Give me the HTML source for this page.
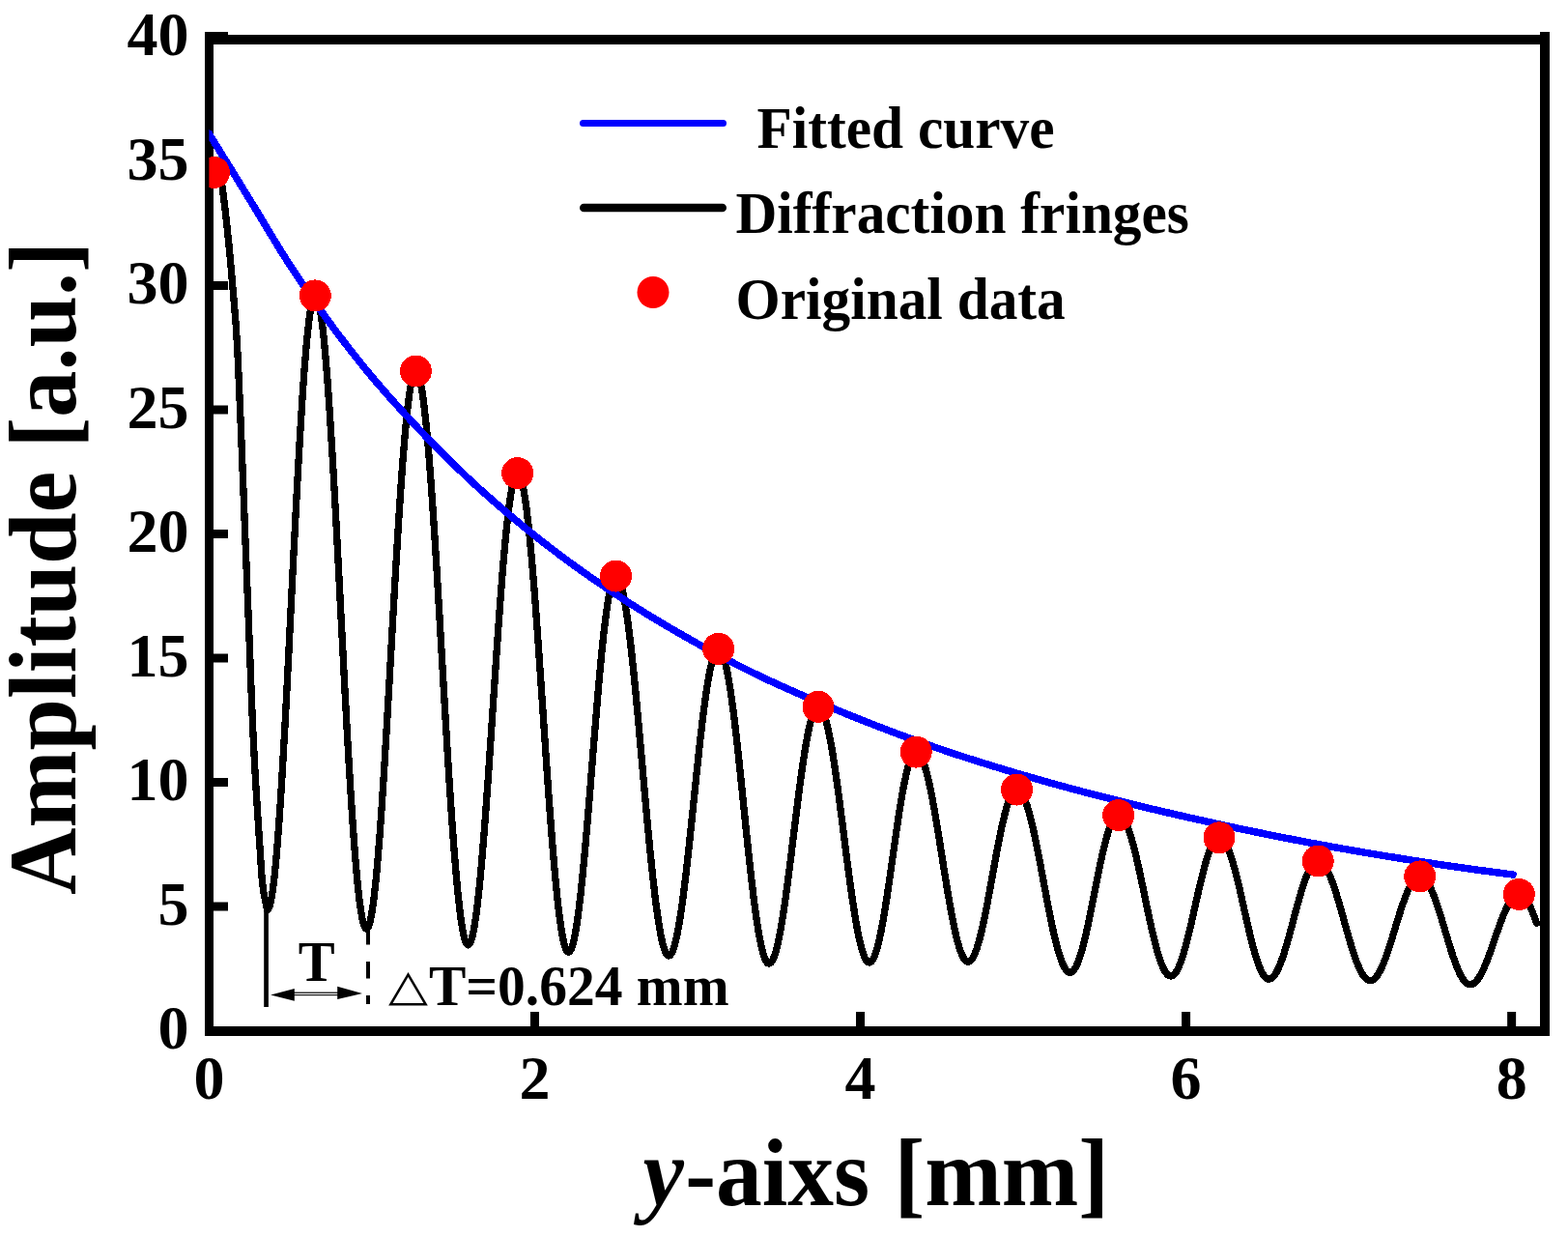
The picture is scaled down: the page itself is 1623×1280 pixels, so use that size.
<!DOCTYPE html>
<html><head><meta charset="utf-8"><title>plot</title><style>html,body{margin:0;padding:0;background:#fff;width:1623px;height:1280px;overflow:hidden}</style></head><body>
<svg width="1623" height="1280" viewBox="0 0 1623 1280" style="display:block">
<defs><clipPath id="c"><rect x="216.4" y="38.5" width="1377.6" height="1028"/></clipPath></defs>
<rect width="1623" height="1280" fill="#fff"/>
<g fill="#000">
<rect x="212" y="36" width="1392" height="10"/>
<rect x="212" y="1062" width="1392" height="10"/>
<rect x="212" y="36" width="9" height="1036"/>
<rect x="1594" y="33" width="10" height="1039"/>
<rect x="212" y="1062.00" width="24" height="9"/>
<rect x="212" y="933.50" width="24" height="9"/>
<rect x="212" y="805.00" width="24" height="9"/>
<rect x="212" y="676.50" width="24" height="9"/>
<rect x="212" y="548.00" width="24" height="9"/>
<rect x="212" y="419.50" width="24" height="9"/>
<rect x="212" y="291.00" width="24" height="9"/>
<rect x="212" y="162.50" width="24" height="9"/>
<rect x="212" y="33" width="24" height="10"/>
<rect x="548.96" y="1047" width="9" height="20"/>
<rect x="886.02" y="1047" width="9" height="20"/>
<rect x="1223.08" y="1047" width="9" height="20"/>
<rect x="1560.14" y="1047" width="9" height="20"/>
</g>
<g font-family="Liberation Serif, Times New Roman, serif" font-weight="bold" font-size="64" fill="#000">
<text x="195.5" y="1085.00" text-anchor="end">0</text>
<text x="195.5" y="956.50" text-anchor="end">5</text>
<text x="195.5" y="828.00" text-anchor="end">10</text>
<text x="195.5" y="699.50" text-anchor="end">15</text>
<text x="195.5" y="571.00" text-anchor="end">20</text>
<text x="195.5" y="442.50" text-anchor="end">25</text>
<text x="195.5" y="314.00" text-anchor="end">30</text>
<text x="195.5" y="185.50" text-anchor="end">35</text>
<text x="195.5" y="57.00" text-anchor="end">40</text>
<text x="216.40" y="1137.4" text-anchor="middle">0</text>
<text x="553.46" y="1137.4" text-anchor="middle">2</text>
<text x="890.52" y="1137.4" text-anchor="middle">4</text>
<text x="1227.58" y="1137.4" text-anchor="middle">6</text>
<text x="1564.64" y="1137.4" text-anchor="middle">8</text>
</g>
<g clip-path="url(#c)" shape-rendering="crispEdges">
<path d="M214.00,183.00 L218.00,178.00 L222.00,177.00 L226.00,181.00 L228.50,186.00 L230.00,193.00 L230.52,197.00 L231.04,201.00 L231.54,205.00 L232.04,209.00 L232.54,213.00 L233.02,217.00 L233.49,221.00 L233.95,225.00 L234.40,229.00 L234.85,233.00 L235.27,237.00 L235.69,241.00 L236.10,245.00 L236.51,249.00 L236.90,253.00 L237.29,257.00 L237.67,261.00 L238.04,265.00 L238.41,269.00 L238.78,273.00 L239.14,277.00 L239.49,281.00 L239.85,285.00 L240.20,289.00 L240.54,293.00 L240.89,297.00 L241.24,301.00 L241.59,305.00 L241.94,309.00 L242.29,313.00 L242.63,317.00 L242.96,321.00 L243.29,325.00 L243.61,329.00 L243.92,333.00 L244.21,337.00 L244.50,341.00 L244.76,345.00 L245.01,349.00 L245.25,353.00 L245.47,357.00 L245.69,361.00 L245.90,365.00 L246.11,369.00 L246.30,373.00 L246.49,377.00 L246.68,381.00 L246.86,385.00 L247.04,389.00 L247.22,393.00 L247.39,397.00 L247.56,401.00 L247.74,405.00 L247.91,409.00 L248.08,413.00 L248.26,417.00 L248.43,421.00 L248.61,425.00 L248.78,429.00 L248.95,433.00 L249.12,437.00 L249.29,441.00 L249.45,445.00 L249.62,449.00 L249.78,453.00 L249.95,457.00 L250.11,461.00 L250.27,465.00 L250.43,469.00 L250.59,473.00 L250.75,477.00 L250.91,481.00 L251.06,485.00 L251.22,489.00 L251.38,493.00 L251.53,497.00 L251.69,501.00 L251.84,505.00 L252.00,509.00 L252.16,513.00 L252.31,517.00 L252.47,521.00 L252.62,525.00 L252.78,529.00 L252.93,533.00 L253.09,537.00 L253.25,541.00 L253.40,545.00 L253.56,549.00 L253.72,553.00 L253.88,557.00 L254.04,561.00 L254.20,565.00 L254.36,569.00 L254.52,573.00 L254.68,577.00 L254.84,581.00 L255.00,585.00 L255.16,589.00 L255.32,593.00 L255.48,597.00 L255.64,601.00 L255.80,605.00 L255.96,609.00 L256.12,613.00 L256.28,617.00 L256.44,621.00 L256.60,625.00 L256.76,629.00 L256.92,633.00 L257.08,637.00 L257.24,641.00 L257.40,645.00 L257.56,649.00 L257.72,653.00 L257.88,657.00 L258.04,661.00 L258.20,665.00 L258.35,669.00 L258.51,673.00 L258.66,677.00 L258.81,681.00 L258.96,685.00 L259.11,689.00 L259.26,693.00 L259.41,697.00 L259.56,701.00 L259.71,705.00 L259.87,709.00 L260.02,713.00 L260.17,717.00 L260.33,721.00 L260.49,725.00 L260.65,729.00 L260.81,733.00 L260.97,737.00 L261.14,741.00 L261.32,745.00 L261.49,749.00 L261.67,753.00 L261.86,757.00 L262.05,761.00 L262.24,765.00 L262.44,769.00 L262.64,773.00 L262.85,777.00 L263.06,781.00 L263.28,785.00 L263.49,789.00 L263.72,793.00 L263.94,797.00 L264.17,801.00 L264.40,805.00 L264.64,809.00 L264.88,813.00 L265.12,817.00 L265.36,821.00 L265.61,825.00 L265.86,829.00 L266.11,833.00 L266.36,837.00 L266.62,841.00 L266.88,845.00 L267.14,849.00 L267.40,853.00 L267.66,857.00 L267.93,861.00 L268.19,865.00 L268.46,869.00 L268.73,873.00 L269.00,877.00 L269.27,881.00 L269.53,885.00 L269.78,889.00 L270.03,893.00 L270.29,897.00 L270.57,901.00 L270.87,905.00 L271.21,909.00 L271.59,913.00 L272.03,917.00 L272.57,921.00 L273.22,925.00 L273.95,929.00 L274.74,933.00 L275.60,937.00 L276.49,941.00 L276.60,941.50 L277.61,940.85 L278.63,938.89 L279.64,935.64 L280.66,931.11 L281.67,925.31 L282.69,918.27 L283.70,910.03 L284.71,900.61 L285.73,890.04 L286.74,878.39 L287.76,865.69 L288.77,851.99 L289.79,837.36 L290.80,821.85 L291.81,805.52 L292.83,788.45 L293.84,770.69 L294.86,752.34 L295.87,733.46 L296.89,714.12 L297.90,694.42 L298.91,674.42 L299.93,654.22 L300.94,633.89 L301.96,613.51 L302.97,593.18 L303.99,572.98 L305.00,552.98 L306.01,533.28 L307.03,513.94 L308.04,495.06 L309.06,476.71 L310.07,458.95 L311.09,441.88 L312.10,425.55 L313.11,410.04 L314.13,395.41 L315.14,381.71 L316.16,369.01 L317.17,357.36 L318.19,346.79 L319.20,337.37 L320.21,329.13 L321.23,322.09 L322.24,316.29 L323.26,311.76 L324.27,308.51 L325.29,306.55 L326.30,305.90 L327.30,306.48 L328.30,308.20 L329.30,311.07 L330.30,315.07 L331.30,320.19 L332.30,326.41 L333.30,333.71 L334.30,342.06 L335.30,351.44 L336.30,361.80 L337.30,373.13 L338.30,385.36 L339.30,398.47 L340.30,412.41 L341.30,427.12 L342.30,442.56 L343.30,458.67 L344.30,475.39 L345.30,492.67 L346.30,510.44 L347.30,528.65 L348.30,547.22 L349.30,566.10 L350.30,585.22 L351.30,604.50 L352.30,623.89 L353.30,643.31 L354.30,662.70 L355.30,681.98 L356.30,701.10 L357.30,719.98 L358.30,738.55 L359.30,756.76 L360.30,774.53 L361.30,791.81 L362.30,808.53 L363.30,824.64 L364.30,840.08 L365.30,854.79 L366.30,868.73 L367.30,881.84 L368.30,894.07 L369.30,905.40 L370.30,915.76 L371.30,925.14 L372.30,933.49 L373.30,940.79 L374.30,947.01 L375.30,952.13 L376.30,956.13 L377.30,959.00 L378.30,960.72 L379.30,961.30 L380.30,960.75 L381.30,959.11 L382.31,956.39 L383.31,952.58 L384.31,947.72 L385.31,941.81 L386.31,934.88 L387.32,926.95 L388.32,918.07 L389.32,908.25 L390.32,897.53 L391.32,885.96 L392.33,873.59 L393.33,860.45 L394.33,846.60 L395.33,832.09 L396.33,816.98 L397.34,801.31 L398.34,785.16 L399.34,768.58 L400.34,751.64 L401.34,734.40 L402.35,716.93 L403.35,699.28 L404.35,681.54 L405.35,663.76 L406.35,646.02 L407.35,628.37 L408.36,610.90 L409.36,593.66 L410.36,576.72 L411.36,560.14 L412.36,543.99 L413.37,528.33 L414.37,513.21 L415.37,498.70 L416.37,484.85 L417.37,471.71 L418.38,459.34 L419.38,447.77 L420.38,437.05 L421.38,427.23 L422.38,418.35 L423.39,410.42 L424.39,403.49 L425.39,397.58 L426.39,392.72 L427.39,388.91 L428.40,386.19 L429.40,384.55 L430.40,384.00 L431.40,384.50 L432.40,386.01 L433.41,388.51 L434.41,392.00 L435.41,396.48 L436.41,401.91 L437.41,408.29 L438.41,415.59 L439.42,423.78 L440.42,432.85 L441.42,442.76 L442.42,453.47 L443.42,464.96 L444.43,477.17 L445.43,490.07 L446.43,503.62 L447.43,517.77 L448.43,532.47 L449.44,547.68 L450.44,563.33 L451.44,579.39 L452.44,595.78 L453.44,612.47 L454.44,629.39 L455.45,646.48 L456.45,663.68 L457.45,680.95 L458.45,698.22 L459.45,715.42 L460.46,732.51 L461.46,749.43 L462.46,766.12 L463.46,782.51 L464.46,798.57 L465.46,814.22 L466.47,829.42 L467.47,844.13 L468.47,858.28 L469.47,871.83 L470.47,884.73 L471.48,896.94 L472.48,908.43 L473.48,919.14 L474.48,929.05 L475.48,938.12 L476.49,946.31 L477.49,953.61 L478.49,959.99 L479.49,965.42 L480.49,969.90 L481.49,973.39 L482.50,975.89 L483.50,977.40 L484.50,977.90 L485.50,977.44 L486.51,976.05 L487.51,973.74 L488.52,970.53 L489.52,966.41 L490.52,961.41 L491.53,955.55 L492.53,948.85 L493.54,941.33 L494.54,933.02 L495.54,923.96 L496.55,914.18 L497.55,903.71 L498.55,892.60 L499.56,880.88 L500.56,868.61 L501.57,855.83 L502.57,842.58 L503.57,828.92 L504.58,814.89 L505.58,800.56 L506.59,785.98 L507.59,771.20 L508.59,756.28 L509.60,741.27 L510.60,726.23 L511.61,711.22 L512.61,696.30 L513.61,681.52 L514.62,666.94 L515.62,652.61 L516.63,638.58 L517.63,624.92 L518.63,611.68 L519.64,598.89 L520.64,586.62 L521.65,574.90 L522.65,563.79 L523.65,553.32 L524.66,543.54 L525.66,534.48 L526.66,526.17 L527.67,518.65 L528.67,511.95 L529.68,506.09 L530.68,501.09 L531.68,496.97 L532.69,493.76 L533.69,491.45 L534.70,490.06 L535.70,489.60 L536.71,490.05 L537.73,491.41 L538.74,493.66 L539.75,496.80 L540.77,500.82 L541.78,505.70 L542.79,511.43 L543.81,517.98 L544.82,525.34 L545.83,533.46 L546.85,542.34 L547.86,551.92 L548.88,562.18 L549.89,573.08 L550.90,584.58 L551.92,596.63 L552.93,609.20 L553.94,622.24 L554.96,635.70 L555.97,649.53 L556.98,663.68 L558.00,678.10 L559.01,692.73 L560.02,707.53 L561.04,722.44 L562.05,737.40 L563.06,752.36 L564.08,767.27 L565.09,782.07 L566.10,796.70 L567.12,811.12 L568.13,825.27 L569.14,839.10 L570.16,852.56 L571.17,865.60 L572.18,878.17 L573.20,890.22 L574.21,901.72 L575.23,912.62 L576.24,922.88 L577.25,932.46 L578.27,941.34 L579.28,949.46 L580.29,956.82 L581.31,963.37 L582.32,969.10 L583.33,973.98 L584.35,978.00 L585.36,981.14 L586.37,983.39 L587.39,984.75 L588.40,985.20 L589.40,984.80 L590.40,983.60 L591.41,981.61 L592.41,978.84 L593.41,975.29 L594.41,970.98 L595.41,965.93 L596.42,960.16 L597.42,953.69 L598.42,946.56 L599.42,938.78 L600.42,930.39 L601.43,921.43 L602.43,911.93 L603.43,901.93 L604.43,891.48 L605.43,880.61 L606.44,869.37 L607.44,857.81 L608.44,845.97 L609.44,833.90 L610.44,821.66 L611.45,809.29 L612.45,796.84 L613.45,784.36 L614.45,771.91 L615.46,759.54 L616.46,747.30 L617.46,735.23 L618.46,723.39 L619.46,711.83 L620.47,700.59 L621.47,689.72 L622.47,679.27 L623.47,669.27 L624.47,659.77 L625.48,650.81 L626.48,642.42 L627.48,634.64 L628.48,627.51 L629.48,621.04 L630.49,615.27 L631.49,610.22 L632.49,605.91 L633.49,602.36 L634.49,599.59 L635.50,597.60 L636.50,596.40 L637.50,596.00 L638.51,596.33 L639.53,597.33 L640.54,598.99 L641.55,601.30 L642.56,604.26 L643.58,607.85 L644.59,612.07 L645.60,616.90 L646.62,622.33 L647.63,628.33 L648.64,634.88 L649.66,641.97 L650.67,649.57 L651.68,657.65 L652.69,666.19 L653.71,675.16 L654.72,684.52 L655.73,694.25 L656.75,704.31 L657.76,714.67 L658.77,725.29 L659.79,736.14 L660.80,747.18 L661.81,758.38 L662.82,769.69 L663.84,781.07 L664.85,792.50 L665.86,803.93 L666.88,815.31 L667.89,826.62 L668.90,837.82 L669.91,848.86 L670.93,859.71 L671.94,870.33 L672.95,880.69 L673.97,890.75 L674.98,900.48 L675.99,909.84 L677.01,918.81 L678.02,927.35 L679.03,935.43 L680.04,943.03 L681.06,950.12 L682.07,956.67 L683.08,962.67 L684.10,968.10 L685.11,972.93 L686.12,977.15 L687.14,980.74 L688.15,983.70 L689.16,986.01 L690.17,987.67 L691.19,988.67 L692.20,989.00 L693.21,988.70 L694.22,987.80 L695.23,986.30 L696.24,984.20 L697.25,981.53 L698.26,978.28 L699.27,974.46 L700.28,970.10 L701.29,965.21 L702.30,959.81 L703.31,953.92 L704.32,947.55 L705.33,940.75 L706.34,933.52 L707.35,925.90 L708.36,917.92 L709.37,909.60 L710.38,900.98 L711.39,892.10 L712.40,882.98 L713.41,873.66 L714.42,864.17 L715.43,854.56 L716.44,844.85 L717.45,835.09 L718.45,825.31 L719.46,815.55 L720.47,805.84 L721.48,796.23 L722.49,786.74 L723.50,777.42 L724.51,768.30 L725.52,759.42 L726.53,750.80 L727.54,742.48 L728.55,734.50 L729.56,726.88 L730.57,719.65 L731.58,712.85 L732.59,706.48 L733.60,700.59 L734.61,695.19 L735.62,690.30 L736.63,685.94 L737.64,682.12 L738.65,678.87 L739.66,676.20 L740.67,674.10 L741.68,672.60 L742.69,671.70 L743.70,671.40 L744.70,671.70 L745.71,672.59 L746.71,674.07 L747.72,676.13 L748.72,678.77 L749.72,681.98 L750.73,685.75 L751.73,690.05 L752.73,694.89 L753.74,700.23 L754.74,706.06 L755.75,712.36 L756.75,719.10 L757.75,726.26 L758.76,733.82 L759.76,741.74 L760.77,750.00 L761.77,758.57 L762.77,767.41 L763.78,776.50 L764.78,785.80 L765.78,795.28 L766.79,804.90 L767.79,814.62 L768.80,824.42 L769.80,834.25 L770.80,844.08 L771.81,853.88 L772.81,863.60 L773.82,873.22 L774.82,882.70 L775.82,892.00 L776.83,901.09 L777.83,909.93 L778.83,918.50 L779.84,926.76 L780.84,934.68 L781.85,942.24 L782.85,949.40 L783.85,956.14 L784.86,962.44 L785.86,968.27 L786.87,973.61 L787.87,978.45 L788.87,982.75 L789.88,986.52 L790.88,989.73 L791.88,992.37 L792.89,994.43 L793.89,995.91 L794.90,996.80 L795.90,997.10 L796.90,996.85 L797.90,996.09 L798.91,994.84 L799.91,993.09 L800.91,990.85 L801.91,988.13 L802.91,984.94 L803.92,981.29 L804.92,977.19 L805.92,972.67 L806.92,967.74 L807.92,962.41 L808.93,956.72 L809.93,950.67 L810.93,944.29 L811.93,937.61 L812.93,930.65 L813.94,923.44 L814.94,916.00 L815.94,908.37 L816.94,900.57 L817.94,892.63 L818.95,884.59 L819.95,876.46 L820.95,868.29 L821.95,860.11 L822.95,851.94 L823.95,843.81 L824.96,835.77 L825.96,827.83 L826.96,820.03 L827.96,812.40 L828.96,804.96 L829.97,797.75 L830.97,790.79 L831.97,784.11 L832.97,777.73 L833.97,771.68 L834.98,765.99 L835.98,760.66 L836.98,755.73 L837.98,751.21 L838.98,747.11 L839.99,743.46 L840.99,740.27 L841.99,737.55 L842.99,735.31 L843.99,733.56 L845.00,732.31 L846.00,731.55 L847.00,731.30 L848.02,731.54 L849.03,732.26 L850.05,733.47 L851.06,735.15 L852.08,737.29 L853.09,739.90 L854.11,742.96 L855.12,746.46 L856.14,750.39 L857.15,754.73 L858.17,759.47 L859.18,764.58 L860.20,770.06 L861.22,775.89 L862.23,782.03 L863.25,788.47 L864.26,795.18 L865.28,802.14 L866.29,809.33 L867.31,816.72 L868.32,824.28 L869.34,831.98 L870.35,839.79 L871.37,847.70 L872.38,855.66 L873.40,863.65 L874.42,871.64 L875.43,879.60 L876.45,887.51 L877.46,895.32 L878.48,903.02 L879.49,910.58 L880.51,917.97 L881.52,925.16 L882.54,932.12 L883.55,938.83 L884.57,945.27 L885.58,951.41 L886.60,957.24 L887.62,962.72 L888.63,967.83 L889.65,972.57 L890.66,976.91 L891.68,980.84 L892.69,984.34 L893.71,987.40 L894.72,990.01 L895.74,992.15 L896.75,993.83 L897.77,995.04 L898.78,995.76 L899.80,996.00 L900.81,995.77 L901.82,995.07 L902.82,993.91 L903.83,992.29 L904.84,990.22 L905.85,987.71 L906.86,984.76 L907.87,981.40 L908.88,977.64 L909.88,973.49 L910.89,968.96 L911.90,964.09 L912.91,958.89 L913.92,953.37 L914.92,947.58 L915.93,941.52 L916.94,935.24 L917.95,928.74 L918.96,922.07 L919.97,915.25 L920.98,908.31 L921.98,901.27 L922.99,894.18 L924.00,887.05 L925.01,879.92 L926.02,872.83 L927.02,865.79 L928.03,858.85 L929.04,852.03 L930.05,845.36 L931.06,838.86 L932.07,832.58 L933.08,826.52 L934.08,820.73 L935.09,815.21 L936.10,810.01 L937.11,805.14 L938.12,800.61 L939.12,796.46 L940.13,792.70 L941.14,789.34 L942.15,786.39 L943.16,783.88 L944.17,781.81 L945.18,780.19 L946.18,779.03 L947.19,778.33 L948.20,778.10 L949.22,778.29 L950.23,778.86 L951.25,779.81 L952.26,781.14 L953.28,782.83 L954.29,784.89 L955.31,787.31 L956.32,790.08 L957.34,793.18 L958.35,796.62 L959.37,800.37 L960.38,804.42 L961.40,808.76 L962.41,813.38 L963.43,818.25 L964.44,823.37 L965.46,828.70 L966.47,834.24 L967.49,839.97 L968.50,845.85 L969.52,851.88 L970.53,858.04 L971.55,864.29 L972.56,870.62 L973.58,877.01 L974.59,883.43 L975.61,889.87 L976.62,896.29 L977.64,902.68 L978.65,909.01 L979.67,915.26 L980.68,921.42 L981.70,927.45 L982.71,933.33 L983.73,939.06 L984.74,944.60 L985.76,949.93 L986.77,955.05 L987.79,959.92 L988.80,964.54 L989.82,968.88 L990.83,972.93 L991.85,976.68 L992.86,980.12 L993.88,983.22 L994.89,985.99 L995.91,988.41 L996.92,990.47 L997.94,992.16 L998.95,993.49 L999.97,994.44 L1000.98,995.01 L1002.00,995.20 L1003.01,995.02 L1004.02,994.50 L1005.03,993.62 L1006.04,992.40 L1007.05,990.84 L1008.06,988.94 L1009.07,986.72 L1010.08,984.18 L1011.09,981.33 L1012.10,978.18 L1013.11,974.75 L1014.12,971.05 L1015.13,967.09 L1016.14,962.89 L1017.15,958.47 L1018.16,953.84 L1019.17,949.02 L1020.18,944.04 L1021.19,938.90 L1022.20,933.63 L1023.21,928.26 L1024.22,922.80 L1025.23,917.27 L1026.24,911.69 L1027.25,906.10 L1028.26,900.51 L1029.27,894.93 L1030.28,889.40 L1031.29,883.94 L1032.30,878.57 L1033.31,873.30 L1034.32,868.16 L1035.33,863.18 L1036.34,858.36 L1037.35,853.73 L1038.36,849.31 L1039.37,845.11 L1040.38,841.15 L1041.39,837.45 L1042.40,834.02 L1043.41,830.87 L1044.42,828.02 L1045.43,825.48 L1046.44,823.26 L1047.45,821.36 L1048.46,819.80 L1049.47,818.58 L1050.48,817.70 L1051.49,817.18 L1052.50,817.00 L1053.50,817.15 L1054.50,817.62 L1055.51,818.39 L1056.51,819.46 L1057.51,820.83 L1058.51,822.50 L1059.51,824.46 L1060.51,826.71 L1061.52,829.23 L1062.52,832.02 L1063.52,835.07 L1064.52,838.37 L1065.52,841.90 L1066.53,845.67 L1067.53,849.65 L1068.53,853.83 L1069.53,858.20 L1070.53,862.75 L1071.53,867.45 L1072.54,872.30 L1073.54,877.28 L1074.54,882.37 L1075.54,887.55 L1076.54,892.81 L1077.55,898.14 L1078.55,903.50 L1079.55,908.90 L1080.55,914.30 L1081.55,919.70 L1082.55,925.06 L1083.56,930.39 L1084.56,935.65 L1085.56,940.83 L1086.56,945.92 L1087.56,950.90 L1088.57,955.75 L1089.57,960.45 L1090.57,965.00 L1091.57,969.37 L1092.57,973.55 L1093.57,977.53 L1094.58,981.30 L1095.58,984.83 L1096.58,988.13 L1097.58,991.18 L1098.58,993.97 L1099.59,996.49 L1100.59,998.74 L1101.59,1000.70 L1102.59,1002.37 L1103.59,1003.74 L1104.59,1004.81 L1105.60,1005.58 L1106.60,1006.05 L1107.60,1006.20 L1108.60,1006.04 L1109.60,1005.56 L1110.61,1004.76 L1111.61,1003.65 L1112.61,1002.22 L1113.61,1000.49 L1114.61,998.46 L1115.62,996.14 L1116.62,993.54 L1117.62,990.67 L1118.62,987.54 L1119.62,984.17 L1120.63,980.55 L1121.63,976.72 L1122.63,972.69 L1123.63,968.46 L1124.63,964.07 L1125.64,959.52 L1126.64,954.83 L1127.64,950.02 L1128.64,945.12 L1129.64,940.13 L1130.65,935.09 L1131.65,930.00 L1132.65,924.90 L1133.65,919.80 L1134.65,914.71 L1135.66,909.67 L1136.66,904.68 L1137.66,899.78 L1138.66,894.97 L1139.66,890.28 L1140.67,885.73 L1141.67,881.34 L1142.67,877.11 L1143.67,873.08 L1144.67,869.25 L1145.68,865.63 L1146.68,862.26 L1147.68,859.13 L1148.68,856.26 L1149.68,853.66 L1150.69,851.34 L1151.69,849.31 L1152.69,847.58 L1153.69,846.15 L1154.69,845.04 L1155.70,844.24 L1156.70,843.76 L1157.70,843.60 L1158.70,843.74 L1159.70,844.16 L1160.71,844.86 L1161.71,845.84 L1162.71,847.10 L1163.71,848.62 L1164.71,850.40 L1165.71,852.45 L1166.72,854.75 L1167.72,857.29 L1168.72,860.06 L1169.72,863.07 L1170.72,866.28 L1171.73,869.70 L1172.73,873.32 L1173.73,877.12 L1174.73,881.08 L1175.73,885.20 L1176.74,889.46 L1177.74,893.85 L1178.74,898.34 L1179.74,902.94 L1180.74,907.61 L1181.74,912.35 L1182.75,917.14 L1183.75,921.96 L1184.75,926.80 L1185.75,931.64 L1186.75,936.46 L1187.76,941.25 L1188.76,945.99 L1189.76,950.66 L1190.76,955.26 L1191.76,959.75 L1192.76,964.14 L1193.77,968.40 L1194.77,972.52 L1195.77,976.48 L1196.77,980.28 L1197.77,983.90 L1198.78,987.32 L1199.78,990.53 L1200.78,993.54 L1201.78,996.31 L1202.78,998.85 L1203.79,1001.15 L1204.79,1003.20 L1205.79,1004.98 L1206.79,1006.50 L1207.79,1007.76 L1208.79,1008.74 L1209.80,1009.44 L1210.80,1009.86 L1211.80,1010.00 L1212.80,1009.86 L1213.81,1009.44 L1214.81,1008.73 L1215.82,1007.75 L1216.82,1006.50 L1217.82,1004.97 L1218.83,1003.19 L1219.83,1001.14 L1220.84,998.85 L1221.84,996.33 L1222.84,993.57 L1223.85,990.59 L1224.85,987.41 L1225.86,984.04 L1226.86,980.49 L1227.86,976.77 L1228.87,972.89 L1229.87,968.89 L1230.88,964.76 L1231.88,960.53 L1232.88,956.21 L1233.89,951.82 L1234.89,947.37 L1235.90,942.90 L1236.90,938.40 L1237.90,933.90 L1238.91,929.43 L1239.91,924.98 L1240.92,920.59 L1241.92,916.27 L1242.92,912.04 L1243.93,907.91 L1244.93,903.91 L1245.94,900.03 L1246.94,896.31 L1247.94,892.76 L1248.95,889.39 L1249.95,886.21 L1250.96,883.23 L1251.96,880.47 L1252.96,877.95 L1253.97,875.66 L1254.97,873.61 L1255.98,871.83 L1256.98,870.30 L1257.98,869.05 L1258.99,868.07 L1259.99,867.36 L1261.00,866.94 L1262.00,866.80 L1263.01,866.94 L1264.01,867.35 L1265.02,868.05 L1266.02,869.01 L1267.03,870.24 L1268.04,871.74 L1269.04,873.50 L1270.05,875.50 L1271.05,877.76 L1272.06,880.25 L1273.06,882.96 L1274.07,885.89 L1275.08,889.03 L1276.08,892.36 L1277.09,895.87 L1278.09,899.54 L1279.10,903.38 L1280.11,907.34 L1281.11,911.44 L1282.12,915.64 L1283.12,919.93 L1284.13,924.30 L1285.14,928.73 L1286.14,933.20 L1287.15,937.70 L1288.15,942.20 L1289.16,946.70 L1290.16,951.17 L1291.17,955.60 L1292.18,959.97 L1293.18,964.26 L1294.19,968.46 L1295.19,972.56 L1296.20,976.52 L1297.21,980.36 L1298.21,984.03 L1299.22,987.54 L1300.22,990.87 L1301.23,994.01 L1302.24,996.94 L1303.24,999.65 L1304.25,1002.14 L1305.25,1004.40 L1306.26,1006.40 L1307.26,1008.16 L1308.27,1009.66 L1309.28,1010.89 L1310.28,1011.85 L1311.29,1012.55 L1312.29,1012.96 L1313.30,1013.10 L1314.32,1012.98 L1315.34,1012.62 L1316.35,1012.02 L1317.37,1011.18 L1318.39,1010.11 L1319.41,1008.81 L1320.43,1007.29 L1321.44,1005.55 L1322.46,1003.60 L1323.48,1001.44 L1324.50,999.09 L1325.52,996.55 L1326.53,993.84 L1327.55,990.96 L1328.57,987.93 L1329.59,984.76 L1330.61,981.46 L1331.62,978.04 L1332.64,974.52 L1333.66,970.92 L1334.68,967.23 L1335.70,963.49 L1336.71,959.70 L1337.73,955.88 L1338.75,952.05 L1339.77,948.22 L1340.79,944.40 L1341.80,940.61 L1342.82,936.87 L1343.84,933.18 L1344.86,929.58 L1345.88,926.06 L1346.89,922.64 L1347.91,919.34 L1348.93,916.17 L1349.95,913.14 L1350.97,910.26 L1351.98,907.55 L1353.00,905.01 L1354.02,902.66 L1355.04,900.50 L1356.06,898.55 L1357.07,896.81 L1358.09,895.29 L1359.11,893.99 L1360.13,892.92 L1361.15,892.08 L1362.16,891.48 L1363.18,891.12 L1364.20,891.00 L1365.20,891.10 L1366.20,891.42 L1367.21,891.94 L1368.21,892.67 L1369.21,893.60 L1370.21,894.73 L1371.21,896.06 L1372.21,897.58 L1373.22,899.29 L1374.22,901.18 L1375.22,903.24 L1376.22,905.47 L1377.22,907.86 L1378.23,910.41 L1379.23,913.09 L1380.23,915.92 L1381.23,918.86 L1382.23,921.92 L1383.24,925.09 L1384.24,928.35 L1385.24,931.70 L1386.24,935.11 L1387.24,938.59 L1388.24,942.11 L1389.25,945.67 L1390.25,949.25 L1391.25,952.85 L1392.25,956.45 L1393.25,960.03 L1394.26,963.59 L1395.26,967.11 L1396.26,970.59 L1397.26,974.00 L1398.26,977.35 L1399.26,980.61 L1400.27,983.77 L1401.27,986.84 L1402.27,989.78 L1403.27,992.61 L1404.27,995.29 L1405.28,997.84 L1406.28,1000.23 L1407.28,1002.46 L1408.28,1004.52 L1409.28,1006.41 L1410.29,1008.12 L1411.29,1009.64 L1412.29,1010.97 L1413.29,1012.10 L1414.29,1013.03 L1415.29,1013.76 L1416.30,1014.28 L1417.30,1014.60 L1418.30,1014.70 L1419.31,1014.60 L1420.32,1014.29 L1421.32,1013.78 L1422.33,1013.07 L1423.34,1012.16 L1424.35,1011.06 L1425.35,1009.77 L1426.36,1008.29 L1427.37,1006.63 L1428.38,1004.79 L1429.39,1002.79 L1430.39,1000.63 L1431.40,998.32 L1432.41,995.87 L1433.42,993.28 L1434.43,990.57 L1435.43,987.75 L1436.44,984.83 L1437.45,981.81 L1438.46,978.71 L1439.46,975.55 L1440.47,972.33 L1441.48,969.07 L1442.49,965.77 L1443.50,962.46 L1444.50,959.14 L1445.51,955.83 L1446.52,952.53 L1447.53,949.27 L1448.54,946.05 L1449.54,942.89 L1450.55,939.79 L1451.56,936.77 L1452.57,933.85 L1453.57,931.03 L1454.58,928.32 L1455.59,925.73 L1456.60,923.28 L1457.61,920.97 L1458.61,918.81 L1459.62,916.81 L1460.63,914.97 L1461.64,913.31 L1462.65,911.83 L1463.65,910.54 L1464.66,909.44 L1465.67,908.53 L1466.68,907.82 L1467.68,907.31 L1468.69,907.00 L1469.70,906.90 L1470.70,907.00 L1471.70,907.31 L1472.71,907.82 L1473.71,908.53 L1474.71,909.43 L1475.71,910.54 L1476.71,911.83 L1477.72,913.31 L1478.72,914.97 L1479.72,916.80 L1480.72,918.81 L1481.72,920.97 L1482.72,923.29 L1483.73,925.75 L1484.73,928.34 L1485.73,931.07 L1486.73,933.90 L1487.73,936.85 L1488.74,939.89 L1489.74,943.01 L1490.74,946.20 L1491.74,949.46 L1492.74,952.76 L1493.75,956.11 L1494.75,959.47 L1495.75,962.85 L1496.75,966.23 L1497.75,969.59 L1498.76,972.94 L1499.76,976.24 L1500.76,979.50 L1501.76,982.69 L1502.76,985.81 L1503.77,988.85 L1504.77,991.80 L1505.77,994.63 L1506.77,997.36 L1507.77,999.95 L1508.78,1002.41 L1509.78,1004.73 L1510.78,1006.89 L1511.78,1008.90 L1512.78,1010.73 L1513.78,1012.39 L1514.79,1013.87 L1515.79,1015.16 L1516.79,1016.27 L1517.79,1017.17 L1518.79,1017.88 L1519.80,1018.39 L1520.80,1018.70 L1521.80,1018.80 L1522.81,1018.71 L1523.82,1018.43 L1524.83,1017.97 L1525.84,1017.33 L1526.85,1016.51 L1527.86,1015.52 L1528.87,1014.36 L1529.88,1013.02 L1530.89,1011.53 L1531.90,1009.88 L1532.91,1008.08 L1533.92,1006.14 L1534.93,1004.07 L1535.94,1001.87 L1536.95,999.55 L1537.96,997.12 L1538.97,994.60 L1539.98,991.98 L1540.99,989.29 L1542.00,986.53 L1543.01,983.71 L1544.02,980.85 L1545.03,977.95 L1546.04,975.03 L1547.05,972.10 L1548.06,969.17 L1549.07,966.25 L1550.08,963.35 L1551.09,960.49 L1552.10,957.67 L1553.11,954.91 L1554.12,952.22 L1555.13,949.60 L1556.14,947.08 L1557.15,944.65 L1558.16,942.33 L1559.17,940.13 L1560.18,938.06 L1561.19,936.12 L1562.20,934.32 L1563.21,932.67 L1564.22,931.18 L1565.23,929.84 L1566.24,928.68 L1567.25,927.69 L1568.26,926.87 L1569.27,926.23 L1570.28,925.77 L1571.29,925.49 L1572.30,925.40 L1573.31,925.50 L1574.33,925.81 L1575.34,926.33 L1576.36,927.05 L1577.37,927.96 L1578.39,929.08 L1579.40,930.38 L1580.42,931.87 L1581.43,933.54 L1582.45,935.38 L1583.46,937.39 L1584.47,939.55 L1585.49,941.85 L1586.50,944.30 L1587.52,946.87 L1588.53,949.55 L1589.55,952.34 L1590.56,955.22" fill="none" stroke="#000" stroke-width="7.3" stroke-linejoin="round" stroke-linecap="round"/>
<path d="M216.40,138.40 L219.40,143.24 L222.40,148.09 L225.40,152.93 L228.40,157.78 L231.40,162.63 L234.40,167.49 L237.40,172.34 L240.40,177.20 L243.40,182.06 L246.40,186.93 L249.40,191.79 L252.40,196.66 L255.40,201.53 L258.40,206.40 L261.40,211.28 L264.40,216.20 L267.40,221.15 L270.40,226.13 L273.40,231.11 L276.40,236.11 L279.40,241.09 L282.40,246.05 L285.40,250.98 L288.40,255.87 L291.40,260.71 L294.40,265.49 L297.40,270.19 L300.40,274.81 L303.40,279.38 L306.40,283.91 L309.40,288.41 L312.40,292.88 L315.40,297.32 L318.40,301.72 L321.40,306.09 L324.40,310.42 L327.40,314.71 L330.40,318.97 L333.40,323.19 L336.40,327.37 L339.40,331.51 L342.40,335.60 L345.40,339.66 L348.40,343.68 L351.40,347.65 L354.40,351.59 L357.40,355.50 L360.40,359.38 L363.40,363.23 L366.40,367.04 L369.40,370.82 L372.40,374.57 L375.40,378.28 L378.40,381.96 L381.40,385.60 L384.40,389.20 L387.40,392.76 L390.40,396.29 L393.40,399.77 L396.40,403.22 L399.40,406.62 L402.40,410.00 L405.40,413.35 L408.40,416.68 L411.40,420.00 L414.40,423.30 L417.40,426.58 L420.40,429.84 L423.40,433.09 L426.40,436.31 L429.40,439.52 L432.40,442.70 L435.40,445.87 L438.40,449.02 L441.40,452.14 L444.40,455.25 L447.40,458.34 L450.40,461.41 L453.40,464.45 L456.40,467.48 L459.40,470.48 L462.40,473.47 L465.40,476.43 L468.40,479.37 L471.40,482.29 L474.40,485.19 L477.40,488.06 L480.40,490.92 L483.40,493.75 L486.40,496.56 L489.40,499.34 L492.40,502.10 L495.40,504.84 L498.40,507.56 L501.40,510.25 L504.40,512.93 L507.40,515.59 L510.40,518.23 L513.40,520.85 L516.40,523.45 L519.40,526.04 L522.40,528.61 L525.40,531.16 L528.40,533.70 L531.40,536.21 L534.40,538.72 L537.40,541.20 L540.40,543.67 L543.40,546.12 L546.40,548.55 L549.40,550.97 L552.40,553.37 L555.40,555.75 L558.40,558.12 L561.40,560.47 L564.40,562.80 L567.40,565.12 L570.40,567.43 L573.40,569.71 L576.40,571.98 L579.40,574.24 L582.40,576.48 L585.40,578.70 L588.40,580.91 L591.40,583.10 L594.40,585.28 L597.40,587.44 L600.40,589.59 L603.40,591.72 L606.40,593.83 L609.40,595.94 L612.40,598.03 L615.40,600.11 L618.40,602.17 L621.40,604.22 L624.40,606.25 L627.40,608.28 L630.40,610.29 L633.40,612.29 L636.40,614.27 L639.40,616.24 L642.40,618.20 L645.40,620.15 L648.40,622.08 L651.40,624.00 L654.40,625.91 L657.40,627.81 L660.40,629.69 L663.40,631.57 L666.40,633.43 L669.40,635.28 L672.40,637.12 L675.40,638.94 L678.40,640.76 L681.40,642.56 L684.40,644.35 L687.40,646.14 L690.40,647.91 L693.40,649.67 L696.40,651.42 L699.40,653.15 L702.40,654.88 L705.40,656.60 L708.40,658.32 L711.40,660.03 L714.40,661.73 L717.40,663.42 L720.40,665.10 L723.40,666.78 L726.40,668.45 L729.40,670.10 L732.40,671.75 L735.40,673.39 L738.40,675.02 L741.40,676.64 L744.40,678.25 L747.40,679.85 L750.40,681.44 L753.40,683.01 L756.40,684.58 L759.40,686.13 L762.40,687.68 L765.40,689.21 L768.40,690.73 L771.40,692.23 L774.40,693.72 L777.40,695.20 L780.40,696.67 L783.40,698.12 L786.40,699.56 L789.40,700.98 L792.40,702.39 L795.40,703.79 L798.40,705.17 L801.40,706.54 L804.40,707.90 L807.40,709.25 L810.40,710.60 L813.40,711.94 L816.40,713.28 L819.40,714.61 L822.40,715.94 L825.40,717.26 L828.40,718.57 L831.40,719.88 L834.40,721.19 L837.40,722.48 L840.40,723.78 L843.40,725.06 L846.40,726.34 L849.40,727.62 L852.40,728.89 L855.40,730.15 L858.40,731.41 L861.40,732.67 L864.40,733.91 L867.40,735.15 L870.40,736.39 L873.40,737.62 L876.40,738.84 L879.40,740.06 L882.40,741.27 L885.40,742.48 L888.40,743.68 L891.40,744.87 L894.40,746.06 L897.40,747.24 L900.40,748.42 L903.40,749.59 L906.40,750.75 L909.40,751.91 L912.40,753.07 L915.40,754.21 L918.40,755.35 L921.40,756.49 L924.40,757.61 L927.40,758.74 L930.40,759.85 L933.40,760.96 L936.40,762.07 L939.40,763.17 L942.40,764.26 L945.40,765.34 L948.40,766.42 L951.40,767.49 L954.40,768.56 L957.40,769.62 L960.40,770.68 L963.40,771.72 L966.40,772.77 L969.40,773.80 L972.40,774.83 L975.40,775.85 L978.40,776.87 L981.40,777.88 L984.40,778.88 L987.40,779.88 L990.40,780.87 L993.40,781.86 L996.40,782.83 L999.40,783.81 L1002.40,784.77 L1005.40,785.73 L1008.40,786.69 L1011.40,787.64 L1014.40,788.58 L1017.40,789.53 L1020.40,790.46 L1023.40,791.39 L1026.40,792.32 L1029.40,793.24 L1032.40,794.16 L1035.40,795.07 L1038.40,795.98 L1041.40,796.88 L1044.40,797.78 L1047.40,798.67 L1050.40,799.56 L1053.40,800.44 L1056.40,801.32 L1059.40,802.20 L1062.40,803.07 L1065.40,803.94 L1068.40,804.80 L1071.40,805.66 L1074.40,806.51 L1077.40,807.36 L1080.40,808.21 L1083.40,809.05 L1086.40,809.89 L1089.40,810.72 L1092.40,811.55 L1095.40,812.38 L1098.40,813.20 L1101.40,814.01 L1104.40,814.83 L1107.40,815.64 L1110.40,816.44 L1113.40,817.24 L1116.40,818.04 L1119.40,818.84 L1122.40,819.63 L1125.40,820.41 L1128.40,821.20 L1131.40,821.98 L1134.40,822.75 L1137.40,823.53 L1140.40,824.30 L1143.40,825.06 L1146.40,825.82 L1149.40,826.58 L1152.40,827.34 L1155.40,828.09 L1158.40,828.84 L1161.40,829.58 L1164.40,830.33 L1167.40,831.07 L1170.40,831.80 L1173.40,832.53 L1176.40,833.26 L1179.40,833.99 L1182.40,834.71 L1185.40,835.43 L1188.40,836.15 L1191.40,836.87 L1194.40,837.58 L1197.40,838.29 L1200.40,838.99 L1203.40,839.70 L1206.40,840.40 L1209.40,841.10 L1212.40,841.79 L1215.40,842.49 L1218.40,843.18 L1221.40,843.87 L1224.40,844.55 L1227.40,845.24 L1230.40,845.92 L1233.40,846.60 L1236.40,847.28 L1239.40,847.95 L1242.40,848.62 L1245.40,849.29 L1248.40,849.96 L1251.40,850.62 L1254.40,851.28 L1257.40,851.94 L1260.40,852.60 L1263.40,853.25 L1266.40,853.90 L1269.40,854.55 L1272.40,855.19 L1275.40,855.83 L1278.40,856.47 L1281.40,857.11 L1284.40,857.75 L1287.40,858.38 L1290.40,859.01 L1293.40,859.63 L1296.40,860.26 L1299.40,860.88 L1302.40,861.50 L1305.40,862.11 L1308.40,862.72 L1311.40,863.33 L1314.40,863.94 L1317.40,864.54 L1320.40,865.14 L1323.40,865.74 L1326.40,866.34 L1329.40,866.93 L1332.40,867.52 L1335.40,868.10 L1338.40,868.69 L1341.40,869.27 L1344.40,869.85 L1347.40,870.42 L1350.40,870.99 L1353.40,871.56 L1356.40,872.13 L1359.40,872.69 L1362.40,873.25 L1365.40,873.81 L1368.40,874.36 L1371.40,874.91 L1374.40,875.46 L1377.40,876.00 L1380.40,876.54 L1383.40,877.08 L1386.40,877.61 L1389.40,878.15 L1392.40,878.68 L1395.40,879.20 L1398.40,879.72 L1401.40,880.24 L1404.40,880.76 L1407.40,881.27 L1410.40,881.79 L1413.40,882.30 L1416.40,882.80 L1419.40,883.31 L1422.40,883.81 L1425.40,884.32 L1428.40,884.81 L1431.40,885.31 L1434.40,885.81 L1437.40,886.30 L1440.40,886.79 L1443.40,887.27 L1446.40,887.76 L1449.40,888.24 L1452.40,888.72 L1455.40,889.20 L1458.40,889.68 L1461.40,890.15 L1464.40,890.62 L1467.40,891.09 L1470.40,891.55 L1473.40,892.02 L1476.40,892.48 L1479.40,892.94 L1482.40,893.39 L1485.40,893.84 L1488.40,894.29 L1491.40,894.74 L1494.40,895.19 L1497.40,895.63 L1500.40,896.07 L1503.40,896.51 L1506.40,896.94 L1509.40,897.37 L1512.40,897.80 L1515.40,898.23 L1518.40,898.65 L1521.40,899.07 L1524.40,899.49 L1527.40,899.91 L1530.40,900.32 L1533.40,900.73 L1536.40,901.14 L1539.40,901.54 L1542.40,901.94 L1545.40,902.34 L1548.40,902.74 L1551.40,903.13 L1554.40,903.52 L1557.40,903.91 L1560.40,904.29 L1563.40,904.67 L1566.00,905.00" fill="none" stroke="#0000ff" stroke-width="7.5" stroke-linejoin="round" stroke-linecap="round"/>
<circle cx="221.5" cy="178.5" r="16.5" fill="#ff0000"/>
<circle cx="326.3" cy="305.9" r="16.5" fill="#ff0000"/>
<circle cx="430.4" cy="384" r="16.5" fill="#ff0000"/>
<circle cx="535.7" cy="489.6" r="16.5" fill="#ff0000"/>
<circle cx="637.5" cy="596" r="16.5" fill="#ff0000"/>
<circle cx="743.7" cy="671.4" r="16.5" fill="#ff0000"/>
<circle cx="847" cy="731.3" r="16.5" fill="#ff0000"/>
<circle cx="948.2" cy="778.1" r="16.5" fill="#ff0000"/>
<circle cx="1052.5" cy="817" r="16.5" fill="#ff0000"/>
<circle cx="1157.7" cy="843.6" r="16.5" fill="#ff0000"/>
<circle cx="1262" cy="866.8" r="16.5" fill="#ff0000"/>
<circle cx="1364.2" cy="891" r="16.5" fill="#ff0000"/>
<circle cx="1469.7" cy="906.9" r="16.5" fill="#ff0000"/>
<circle cx="1572.3" cy="925.4" r="16.5" fill="#ff0000"/>
</g>
<rect x="273.2" y="944" width="4.7" height="98" fill="#000"/>
<line x1="381" y1="960" x2="381" y2="1039" stroke="#000" stroke-width="4" stroke-dasharray="17.5 17.5"/>
<path d="M280.1,1029.5 L304.8,1022.9 L304.8,1035.8 Z M375,1028 L349.2,1020.8 L349.2,1033.9 Z" fill="#000"/>
<rect x="304" y="1026.6" width="46" height="1.2" fill="#000"/><rect x="304" y="1029.1" width="46" height="1.1" fill="#000"/>
<text x="0" y="0" font-family="Liberation Serif, serif" font-weight="bold" font-size="60" transform="translate(308.8,1015) scale(0.947,1)">T</text>
<text x="0" y="0" font-family="DejaVu Sans, sans-serif" font-weight="bold" font-size="46" transform="translate(402,1034.6) scale(1.159,0.979)">&#x25B3;</text>
<text x="0" y="0" font-family="Liberation Serif, serif" font-weight="bold" font-size="59" transform="translate(443.9,1039.7) scale(0.975,1)">T=0.624 mm</text>
<line x1="603.5" y1="127.5" x2="748.5" y2="127.5" stroke="#0000ff" stroke-width="7" stroke-linecap="round"/>
<line x1="604.3" y1="215" x2="747.7" y2="215" stroke="#000" stroke-width="8.6" stroke-linecap="round"/>
<circle cx="676" cy="302.5" r="16.5" fill="#ff0000"/>
<g font-family="Liberation Serif, serif" font-weight="bold" fill="#000">
<text font-size="61.2" transform="translate(783.5,153) scale(0.970,1)">Fitted curve</text>
<text font-size="60.3" transform="translate(761.5,240.7) scale(0.984,1)">Diffraction fringes</text>
<text font-size="61" transform="translate(761.5,329.5) scale(0.973,1)">Original data</text>
</g>
<text font-family="Liberation Serif, serif" font-weight="bold" font-size="100" transform="translate(78,926) rotate(-90) scale(0.962,1)">Amplitude [a.u.]</text>
<text font-family="Liberation Serif, serif" font-weight="bold" font-size="100" transform="translate(665.5,1246.5) scale(0.9548,1)"><tspan font-style="italic">y</tspan><tspan dx="1.4">-aixs</tspan><tspan dx="1.5"> [mm]</tspan></text>
</svg>
</body></html>
